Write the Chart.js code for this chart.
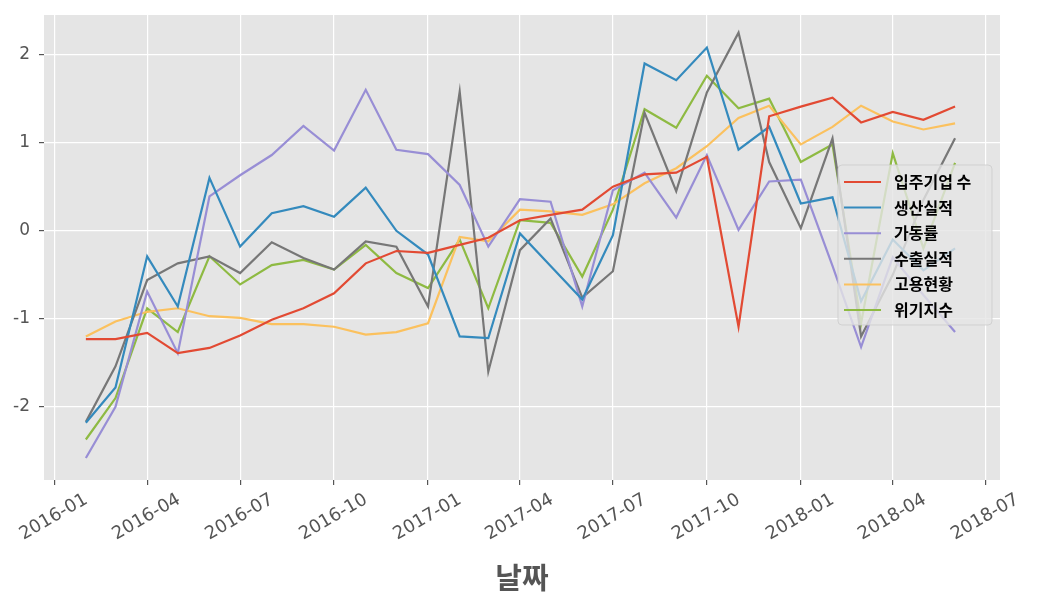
<!DOCTYPE html>
<html><head><meta charset="utf-8">
<script src="https://cdn.jsdelivr.net/npm/chart.js@4/dist/chart.umd.min.js"></script>
<style>html,body{margin:0;padding:0;background:#fff;}#wrap{width:1049px;height:603px;position:relative;}</style>
</head><body><div id="wrap"><canvas id="c" width="1049" height="603"></canvas></div>
<script>
// ---- data ----
const months = ['2016-02','2016-03','2016-04','2016-05','2016-06','2016-07','2016-08','2016-09','2016-10','2016-11','2016-12',
  '2017-01','2017-02','2017-03','2017-04','2017-05','2017-06','2017-07','2017-08','2017-09','2017-10','2017-11','2017-12',
  '2018-01','2018-02','2018-03','2018-04','2018-05','2018-06'];
const tickMonths = ['2016-01','2016-04','2016-07','2016-10','2017-01','2017-04','2017-07','2017-10','2018-01','2018-04','2018-07'];
const yTicks = [-2,-1,0,1,2];
const seriesNames = ['입주기업 수','생산실적','가동률','수출실적','고용현황','위기지수'];
const companies = [-1.23,-1.23,-1.16,-1.39,-1.33,-1.19,-1.01,-0.88,-0.71,-0.37,-0.23,-0.25,-0.16,-0.08,0.12,0.18,0.24,0.50,0.64,0.66,0.84,-1.09,1.30,1.41,1.51,1.23,1.35,1.26,1.41];
const production = [-2.18,-1.78,-0.29,-0.86,0.60,-0.18,0.20,0.28,0.16,0.49,0.00,-0.27,-1.20,-1.22,-0.03,-0.40,-0.78,-0.05,1.90,1.71,2.08,0.92,1.18,0.31,0.38,-0.80,-0.10,-0.45,-0.20];
const utilization = [-2.58,-2.00,-0.69,-1.39,0.39,0.63,0.86,1.19,0.91,1.60,0.92,0.87,0.52,-0.18,0.36,0.33,-0.86,0.46,0.66,0.15,0.86,0.01,0.56,0.58,-0.40,-1.32,-0.30,-0.73,-1.15];
const exports_ = [-2.17,-1.54,-0.56,-0.37,-0.29,-0.48,-0.13,-0.31,-0.44,-0.12,-0.18,-0.86,1.58,-1.60,-0.22,0.14,-0.76,-0.46,1.34,0.45,1.57,2.25,0.78,0.03,1.05,-1.20,-0.50,0.35,1.05];
const employment = [-1.20,-1.03,-0.92,-0.88,-0.97,-0.99,-1.06,-1.06,-1.09,-1.18,-1.15,-1.05,-0.07,-0.12,0.24,0.22,0.18,0.30,0.54,0.71,0.96,1.28,1.42,0.98,1.18,1.42,1.24,1.15,1.22];
const crisis = [-2.37,-1.90,-0.88,-1.15,-0.29,-0.61,-0.39,-0.33,-0.44,-0.16,-0.48,-0.65,-0.10,-0.88,0.12,0.09,-0.52,0.24,1.38,1.17,1.76,1.39,1.50,0.78,0.98,-1.05,0.88,-0.20,0.77];
const xAxisTitle = '날짜';

// ---- helpers ----
function dayOf(ym){const [y,m]=ym.split('-').map(Number);return (Date.UTC(y,m-1,1)-Date.UTC(2016,0,1))/86400000;}
const colors = ['#E24A33','#348ABD','#988ED5','#777777','#FBC15E','#8EBA42'];
const allSeries = [companies,production,utilization,exports_,employment,crisis];
const datasets = allSeries.map((vals,i)=>({
  label: seriesNames[i],
  data: vals.map((v,j)=>({x: dayOf(months[j]), y: v})),
  borderColor: colors[i], backgroundColor: colors[i],
  borderWidth: 2.2, pointRadius: 0, tension: 0, fill: false
}));

const bgPlugin = {
  id:'bg',
  beforeDraw(chart){
    const {ctx, chartArea:a} = chart;
    ctx.save(); ctx.fillStyle='#E5E5E5'; ctx.fillRect(a.left,a.top,a.right-a.left,a.bottom-a.top); ctx.restore();
  }
};
const legendPlugin = {
  id:'inlegend',
  afterDraw(chart){
    const {ctx, chartArea:a} = chart;
    const w=154, h=160, x=a.right-162, y=a.top+150, r=4;
    ctx.save();
    ctx.beginPath();
    ctx.moveTo(x+r,y); ctx.lineTo(x+w-r,y); ctx.quadraticCurveTo(x+w,y,x+w,y+r);
    ctx.lineTo(x+w,y+h-r); ctx.quadraticCurveTo(x+w,y+h,x+w-r,y+h);
    ctx.lineTo(x+r,y+h); ctx.quadraticCurveTo(x,y+h,x,y+h-r);
    ctx.lineTo(x,y+r); ctx.quadraticCurveTo(x,y,x+r,y); ctx.closePath();
    ctx.fillStyle='rgba(229,229,229,0.8)'; ctx.fill();
    ctx.strokeStyle='rgba(204,204,204,0.8)'; ctx.lineWidth=1; ctx.stroke();
    ctx.font='bold 16px "Noto Sans CJK KR"'; ctx.textBaseline='middle'; ctx.textAlign='left';
    chart.data.datasets.forEach((ds,i)=>{
      const ry = y+17+i*25.6;
      ctx.strokeStyle=ds.borderColor; ctx.lineWidth=2;
      ctx.beginPath(); ctx.moveTo(x+6,ry); ctx.lineTo(x+43,ry); ctx.stroke();
      ctx.fillStyle='#000'; ctx.fillText(ds.label, x+56, ry);
    });
    ctx.restore();
  }
};

new Chart(document.getElementById('c'), {
  type:'line',
  data:{datasets},
  plugins:[bgPlugin, legendPlugin],
  options:{
    responsive:false, animation:false, devicePixelRatio:1,
    layout:{padding:{top:15,right:49,left:0,bottom:0}},
    plugins:{legend:{display:false}, tooltip:{enabled:false}},
    scales:{
      x:{
        type:'linear', min:-10, max:926,
        afterBuildTicks:(s)=>{s.ticks = tickMonths.map(t=>({value:dayOf(t)}));},
        afterFit:(s)=>{s.height=123; s.paddingLeft=0; s.paddingRight=0;},
        ticks:{autoSkip:false, minRotation:30, maxRotation:30, labelOffset:32, padding:4,
          font:{family:'DejaVu Sans', size:18}, color:'#555',
          callback:(v,i)=>tickMonths[i]},
        grid:{color:'#ffffff', lineWidth:1.2, tickColor:'#555', tickLength:5, drawTicks:true},
        border:{display:false},
        title:{display:true, text:xAxisTitle, color:'#555', font:{family:'Noto Sans CJK KR', size:29, weight:'bold'}, padding:{top:0,bottom:8}}
      },
      y:{
        type:'linear', min:-2.83, max:2.45,
        afterBuildTicks:(s)=>{s.ticks = yTicks.map(v=>({value:v}));},
        afterFit:(s)=>{s.width=44; s.paddingTop=0; s.paddingBottom=0;},
        ticks:{font:{family:'DejaVu Sans', size:17}, color:'#555', padding:9, callback:(v)=>String(v)},
        grid:{color:'#ffffff', lineWidth:1.2, tickColor:'#555', tickLength:5, drawTicks:true},
        border:{display:false}
      }
    }
  }
});
</script></body></html>
